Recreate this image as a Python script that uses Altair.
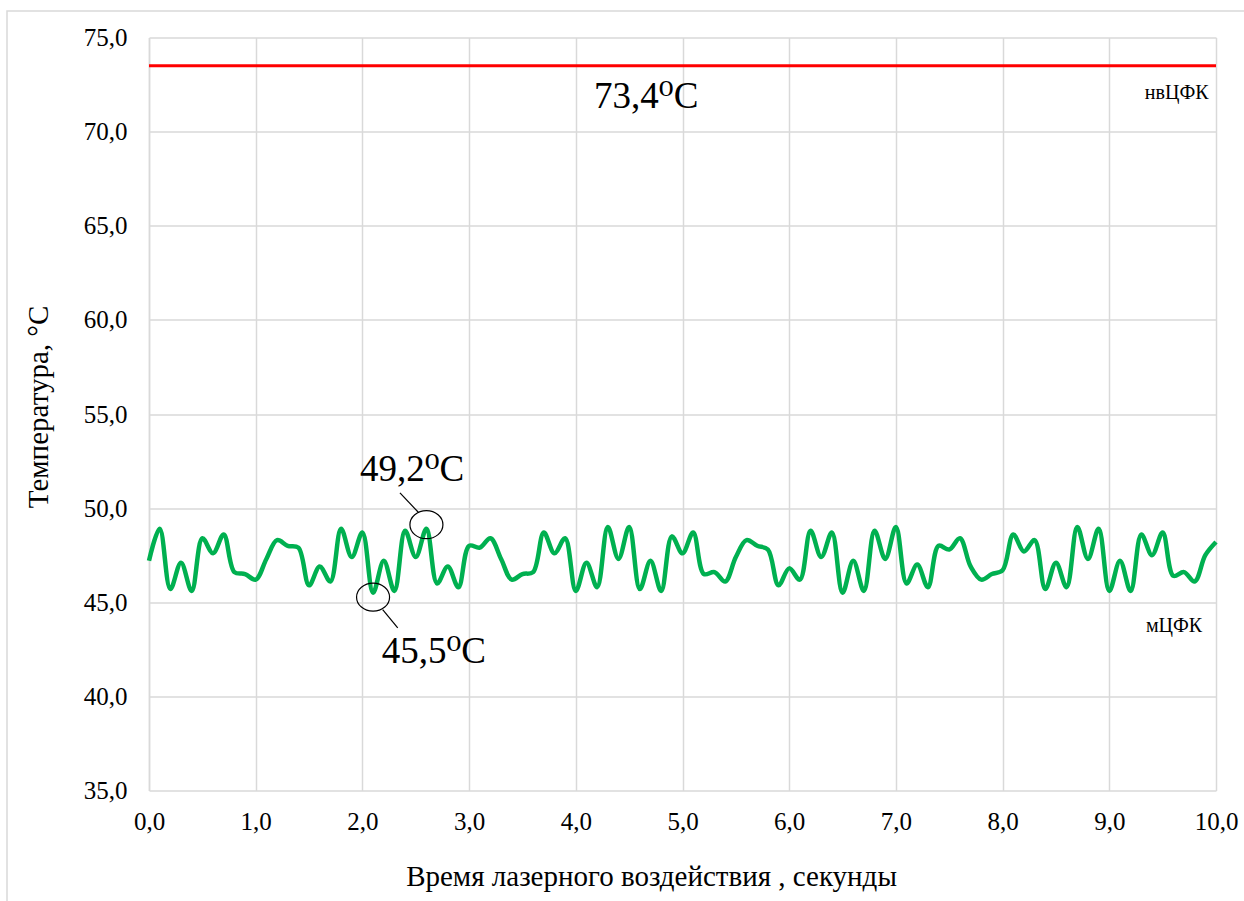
import altair as alt
import pandas as pd

# ---- data ----
time_s = [0.0, 0.1, 0.2, 0.3, 0.4, 0.5, 0.6, 0.7, 0.8, 0.9,
          1.0, 1.1, 1.2, 1.3, 1.4, 1.5, 1.6, 1.7, 1.8, 1.9,
          2.0, 2.1, 2.2, 2.3, 2.4, 2.5, 2.6, 2.7, 2.8, 2.9,
          3.0, 3.1, 3.2, 3.3, 3.4, 3.5, 3.6, 3.7, 3.8, 3.9,
          4.0, 4.1, 4.2, 4.3, 4.4, 4.5, 4.6, 4.7, 4.8, 4.9,
          5.0, 5.1, 5.2, 5.3, 5.4, 5.5, 5.6, 5.7, 5.8, 5.9,
          6.0, 6.1, 6.2, 6.3, 6.4, 6.5, 6.6, 6.7, 6.8, 6.9,
          7.0, 7.1, 7.2, 7.3, 7.4, 7.5, 7.6, 7.7, 7.8, 7.9,
          8.0, 8.1, 8.2, 8.3, 8.4, 8.5, 8.6, 8.7, 8.8, 8.9,
          9.0, 9.1, 9.2, 9.3, 9.4, 9.5, 9.6, 9.7, 9.8, 9.9,
          10.0]
temp_mcfk = [47.2, 48.9, 45.7, 47.1, 45.6, 48.4, 47.6, 48.6, 46.6, 46.5,
             46.2, 47.3, 48.3, 48.0, 47.9, 45.9, 46.9, 46.1, 48.9, 47.4,
             48.7, 45.5, 47.2, 45.6, 48.8, 47.4, 48.9, 46.0, 46.9, 45.8,
             48.0, 47.9, 48.4, 47.3, 46.2, 46.5, 46.6, 48.7, 47.6, 48.4,
             45.6, 47.1, 45.8, 49.0, 47.3, 49.0, 45.7, 47.2, 45.6, 48.5,
             47.6, 48.7, 46.5, 46.6, 46.1, 47.4, 48.3, 48.0, 47.8, 45.9,
             46.8, 46.2, 48.8, 47.4, 48.7, 45.5, 47.2, 45.6, 48.8, 47.3,
             49.0, 46.0, 47.0, 45.8, 48.0, 47.8, 48.4, 46.9, 46.2, 46.5,
             46.7, 48.6, 47.7, 48.3, 45.7, 47.1, 45.8, 49.0, 47.3, 48.9,
             45.6, 47.2, 45.6, 48.6, 47.5, 48.7, 46.4, 46.6, 46.1, 47.5,
             48.2]

red_t = [0.0, 10.0]
red_v = [73.5, 73.5]

x_ticks = [0, 1, 2, 3, 4, 5, 6, 7, 8, 9, 10]
y_ticks = [35, 40, 45, 50, 55, 60, 65, 70, 75]

# annotations
big_text = ["73,4⁰C", "49,2⁰C", "45,5⁰C"]
big_t = [4.66, 2.465, 2.67]
big_v = [71.86, 52.04, 42.38]

small_text = ["нвЦФК", "мЦФК"]
small_t = [9.93, 9.87]
small_v = [72.05, 43.73]

ell_t = [2.6, 2.1]
ell_v = [49.12, 45.27]

lead_t1 = [2.352, 2.19]
lead_v1 = [50.81, 44.61]
lead_t2 = [2.524, 2.331]
lead_v2 = [49.78, 43.64]

FONT = "Times New Roman, Liberation Serif, DejaVu Serif, serif"
GRID = "#D9D9D9"

green_df = pd.DataFrame({"t": time_s, "v": temp_mcfk})
red_df = pd.DataFrame({"t": red_t, "v": red_v})
big_df = pd.DataFrame({"t": big_t, "v": big_v, "label": big_text})
small_df = pd.DataFrame({"t": small_t, "v": small_v, "label": small_text})
ell_df = pd.DataFrame({"t": ell_t, "v": ell_v})
lead_df = pd.DataFrame({"t": lead_t1, "v": lead_v1, "t2": lead_t2, "v2": lead_v2})

lab_expr = "replace(format(datum.value, '.1f'), '.', ',')"

x_scale = alt.Scale(domain=[0, 10], nice=False, zero=False)
y_scale = alt.Scale(domain=[35, 75], nice=False, zero=False)

x_axis = alt.Axis(
    values=x_ticks, labelExpr=lab_expr, grid=True, gridColor=GRID, gridWidth=1.5,
    domain=False, ticks=False, tickSize=0, labelFlush=False,
    labelFont=FONT, labelFontSize=25, labelColor="black",
    labelPadding=39, labelBaseline="alphabetic",
    title="Время лазерного воздействия , секунды",
    titleFont=FONT, titleFontSize=29, titleFontWeight="normal", titleColor="black",
    titleX=502, titleY=95, titleAlign="center", titleBaseline="alphabetic",
)
y_axis = alt.Axis(
    values=y_ticks, labelExpr=lab_expr, grid=True, gridColor=GRID, gridWidth=1.5,
    domain=True, domainColor=GRID, domainWidth=1.5, ticks=False, tickSize=0,
    labelFlush=False,
    labelFont=FONT, labelFontSize=25, labelColor="black", labelPadding=22,
    title="Температура, °C",
    titleFont=FONT, titleFontSize=29, titleFontWeight="normal", titleColor="black",
    titleX=-102, titleY=369, titleAlign="center", titleBaseline="alphabetic", titleAngle=270,
)

X = alt.X("t:Q", scale=x_scale, axis=x_axis)
Y = alt.Y("v:Q", scale=y_scale, axis=y_axis)

border = alt.Chart(pd.DataFrame({"a": [0]})).mark_rect(
    fill=None, stroke=GRID, strokeWidth=1.5
).encode(
    x=alt.value(-142), x2=alt.value(1120), y=alt.value(-26.5), y2=alt.value(890)
)

green = alt.Chart(green_df).mark_line(
    color="#00B050", strokeWidth=4.5, interpolate="catmull-rom"
).encode(x=X, y=Y)

red = alt.Chart(red_df).mark_line(color="#FF0000", strokeWidth=3).encode(
    x=alt.X("t:Q", scale=x_scale), y=alt.Y("v:Q", scale=y_scale)
)

big = alt.Chart(big_df).mark_text(
    font=FONT, fontSize=37, color="black", align="center", baseline="middle"
).encode(x=alt.X("t:Q", scale=x_scale), y=alt.Y("v:Q", scale=y_scale), text="label:N")

small = alt.Chart(small_df).mark_text(
    font=FONT, fontSize=20, color="black", align="right", baseline="middle"
).encode(x=alt.X("t:Q", scale=x_scale), y=alt.Y("v:Q", scale=y_scale), text="label:N")

ellipse_path = ("M -1 0 C -1 -0.469 -0.552 -0.85 0 -0.85 C 0.552 -0.85 1 -0.469 1 0 "
                "C 1 0.469 0.552 0.85 0 0.85 C -0.552 0.85 -1 0.469 -1 0 Z")
ellipses = alt.Chart(ell_df).mark_point(
    shape=ellipse_path, size=1089, filled=False, color="black", strokeWidth=1.2, opacity=1
).encode(x=alt.X("t:Q", scale=x_scale), y=alt.Y("v:Q", scale=y_scale))

leaders = alt.Chart(lead_df).mark_rule(color="black", strokeWidth=1.2).encode(
    x=alt.X("t:Q", scale=x_scale), y=alt.Y("v:Q", scale=y_scale),
    x2="t2:Q", y2="v2:Q"
)

chart = alt.layer(border, green, red, big, small, ellipses, leaders).properties(
    width=1067, height=753,
    autosize=alt.AutoSizeParams(type="none"),
    padding={"left": 149, "top": 37.5, "right": 28, "bottom": 110.5},
    background="white",
).configure_view(stroke=None)

chart.save("out.html", embed_options={"renderer": "svg", "actions": False})
